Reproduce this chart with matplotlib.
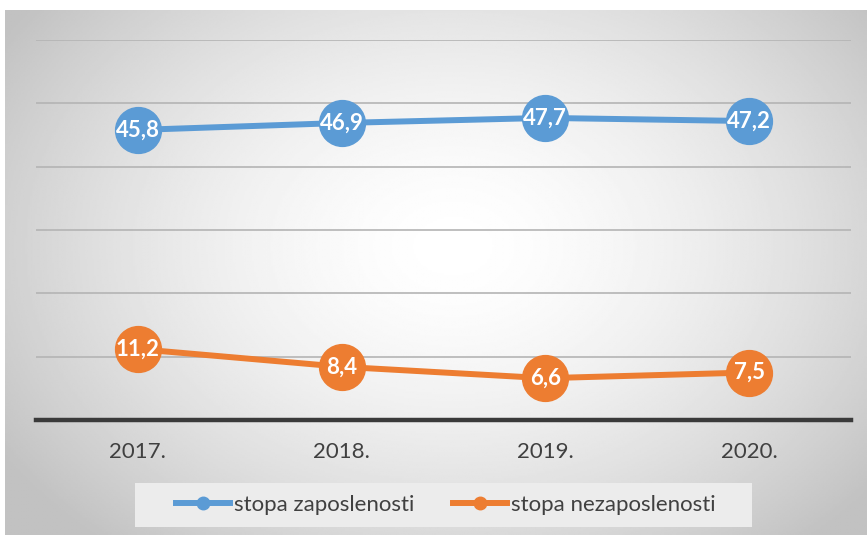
import numpy as np
import matplotlib
matplotlib.use('Agg')
import matplotlib.pyplot as plt
from matplotlib.patches import Rectangle

years = ['2017.', '2018.', '2019.', '2020.']
zaposlenost = [45.8, 46.9, 47.7, 47.2]
nezaposlenost = [11.2, 8.4, 6.6, 7.5]
labels = ['stopa zaposlenosti', 'stopa nezaposlenosti']

BLUE = '#5b9bd5'
ORANGE = '#ed7d31'
plt.rcParams['font.family'] = ['Lato', 'DejaVu Sans']

fig = plt.figure(figsize=(8.67, 5.35), dpi=100)

# radial gradient background (chart area, leaving white strip at top/left)
bg = fig.add_axes([5 / 867, 0, 1 - 5 / 867, 1 - 10 / 535])
yy, xx = np.mgrid[0:1:300j, 0:1:500j]
r = np.sqrt(((xx - 0.52) / 0.62) ** 2 + ((yy - 0.45) / 0.75) ** 2)
shade = 1.0 - 0.24 * np.clip(r, 0, 1) ** 1.6
bg.imshow(shade, cmap='gray', vmin=0, vmax=1, aspect='auto', extent=[0, 1, 0, 1])
bg.axis('off')

ax = fig.add_axes([36 / 867, 1 - 420 / 535, (851 - 36) / 867, (420 - 40) / 535])
ax.patch.set_alpha(0)
x = np.arange(len(years))
ax.set_xlim(-0.5, len(years) - 0.5)
ax.set_ylim(0, 60)
ax.set_yticks(np.arange(10, 61, 10))
ax.yaxis.grid(True, color='#b4b4b4', lw=1.2)
ax.set_axisbelow(True)
ax.tick_params(left=False, labelleft=False, bottom=False, labelsize=16, colors='#404040', pad=12)
ax.set_xticks(x)
ax.set_xticklabels(years)
for s in ['top', 'right', 'left']:
    ax.spines[s].set_visible(False)
ax.spines['bottom'].set_color('#3a3a3a')
ax.spines['bottom'].set_linewidth(3.2)

for vals, c, lab in [(zaposlenost, BLUE, labels[0]), (nezaposlenost, ORANGE, labels[1])]:
    ax.plot(x, vals, '-o', color=c, lw=4.3, ms=33, label=lab, zorder=3)
    for xi, v in zip(x, vals):
        ax.text(xi, v, f'{v:.1f}'.replace('.', ','), ha='center', va='center',
                color='white', fontsize=16, fontweight='bold', zorder=4)

# legend box
fig.patches.append(Rectangle((135 / 867, 1 - 527 / 535), (752 - 135) / 867, 44 / 535,
                             transform=fig.transFigure, facecolor='#ececec',
                             edgecolor='none', zorder=1))
handles = [plt.Line2D([], [], color=BLUE, lw=4.3, marker='o', ms=9),
           plt.Line2D([], [], color=ORANGE, lw=4.3, marker='o', ms=9)]
leg = fig.legend(handles, labels, loc='center', bbox_to_anchor=(446 / 867, 1 - 505 / 535),
                 ncol=2, fontsize=16, frameon=False, handlelength=2.4,
                 handletextpad=0.2, columnspacing=1.75, borderpad=0.3, borderaxespad=0)
for t in leg.get_texts():
    t.set_color('#404040')

fig.savefig('out.png', dpi=100)
